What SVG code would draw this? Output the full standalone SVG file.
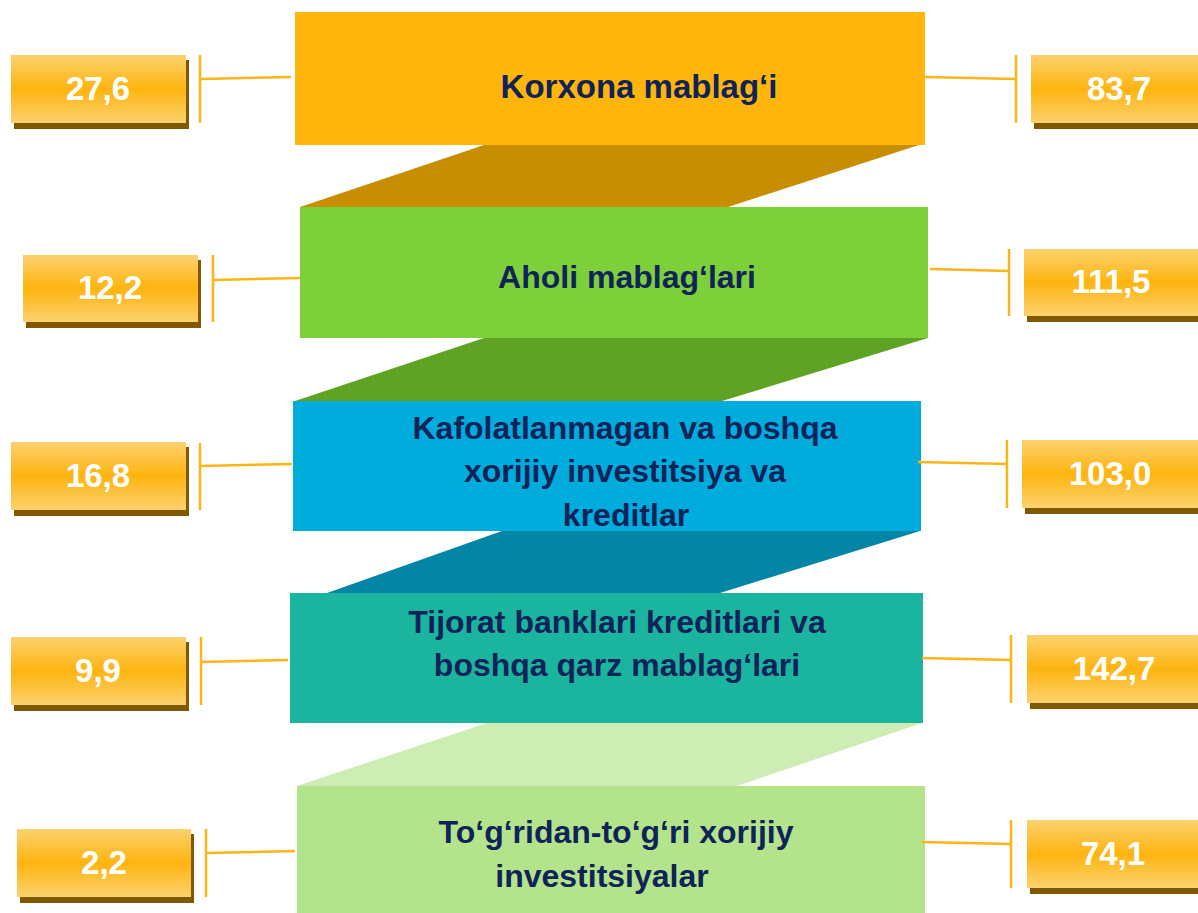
<svg xmlns="http://www.w3.org/2000/svg" width="1198" height="913" viewBox="0 0 1198 913">
<defs>
<linearGradient id="gold" x1="0" y1="0" x2="0" y2="1">
<stop offset="0" stop-color="#FCD26F"/>
<stop offset="0.5" stop-color="#FDB40F"/>
<stop offset="1" stop-color="#FCD26F"/>
</linearGradient>
<style>
.t{font-family:"Liberation Sans",Arial,sans-serif;font-weight:bold;font-size:32px;fill:#0F2359;text-anchor:middle}
.n{font-family:"Liberation Sans",Arial,sans-serif;font-weight:bold;font-size:33px;fill:#FFFFFF;text-anchor:middle}
.sh{fill:#7F5800}
.bx{fill:url(#gold)}
.ln{stroke:#FDB515;stroke-width:2.5;fill:none}
</style>
</defs>
<rect width="1198" height="913" fill="#FFFFFF"/>
<g id="bands">
<polygon points="490,143 925,143 728,207 300,207" fill="#C68E00"/>
<polygon points="484,338 928,338 722,401 295,401" fill="#5FA324"/>
<polygon points="502,531 920,531 720,593 327,593" fill="#0385A6"/>
<polygon points="487,723 922,723 737,786 297,786" fill="#CDEDB4"/>
</g>
<g id="n1"><rect x="295" y="12" width="630" height="133" fill="#FFB50C"/><text class="t" x="639" y="98" style="font-size:33px">Korxona mablag‘i</text></g>
<g id="n2"><rect x="300" y="207" width="628" height="131" fill="#7ED03A"/><text class="t" x="627" y="288">Aholi mablag‘lari</text></g>
<g id="n3"><rect x="293" y="401" width="628" height="130" fill="#00ACDC"/><text class="t" x="625" y="439">Kafolatlanmagan va boshqa</text><text class="t" x="625" y="482">xorijiy investitsiya va</text><text class="t" x="626" y="526">kreditlar</text></g>
<g id="n4"><rect x="290" y="593" width="633" height="130" fill="#1BB49F"/><text class="t" x="617" y="633">Tijorat banklari kreditlari va</text><text class="t" x="617" y="676">boshqa qarz mablag‘lari</text></g>
<g id="n5"><rect x="297" y="786" width="628" height="127" fill="#B3E38A"/><text class="t" x="616" y="843">To‘g‘ridan-to‘g‘ri xorijiy</text><text class="t" x="602" y="887">investitsiyalar</text></g>
<g id="connectors">
<path class="ln" d="M200,55 V123 M200,79 L291,77"/>
<path class="ln" d="M213,255 V322 M213,280 L300,278"/>
<path class="ln" d="M200,443 V510 M200,466 L292,464"/>
<path class="ln" d="M201,637 V705 M201,662 L288,660"/>
<path class="ln" d="M206,829 V897 M206,853 L295,851"/>
<path class="ln" d="M1016,55 V123 M925,77 L1016,79"/>
<path class="ln" d="M1009,249 V316 M930,269 L1009,271"/>
<path class="ln" d="M1007,440 V508 M918,462 L1007,464"/>
<path class="ln" d="M1011,635 V703 M922,658 L1011,660"/>
<path class="ln" d="M1011,820 V888 M922,842 L1011,844"/>
</g>
<g id="v1"><rect class="sh" x="14" y="60" width="175" height="69"/><rect class="bx" x="11" y="55" width="175" height="68"/><text class="n" x="98" y="100">27,6</text></g>
<g id="v2"><rect class="sh" x="26" y="260" width="175" height="68"/><rect class="bx" x="23" y="255" width="175" height="67"/><text class="n" x="110" y="299">12,2</text></g>
<g id="v3"><rect class="sh" x="14" y="447" width="175" height="69"/><rect class="bx" x="11" y="442" width="175" height="68"/><text class="n" x="98" y="487">16,8</text></g>
<g id="v4"><rect class="sh" x="14" y="642" width="175" height="69"/><rect class="bx" x="11" y="637" width="175" height="68"/><text class="n" x="98" y="682">9,9</text></g>
<g id="v5"><rect class="sh" x="20" y="834" width="174" height="69"/><rect class="bx" x="17" y="829" width="174" height="68"/><text class="n" x="104" y="874">2,2</text></g>
<g id="v6"><rect class="sh" x="1034" y="60" width="164" height="69"/><rect class="bx" x="1031" y="55" width="167" height="68"/><text class="n" x="1119" y="100">83,7</text></g>
<g id="v7"><rect class="sh" x="1027" y="254" width="171" height="68"/><rect class="bx" x="1024" y="249" width="174" height="67"/><text class="n" x="1111" y="293">111,5</text></g>
<g id="v8"><rect class="sh" x="1025" y="445" width="173" height="69"/><rect class="bx" x="1022" y="440" width="176" height="68"/><text class="n" x="1110" y="485">103,0</text></g>
<g id="v9"><rect class="sh" x="1030" y="640" width="168" height="69"/><rect class="bx" x="1027" y="635" width="171" height="68"/><text class="n" x="1114" y="680">142,7</text></g>
<g id="v10"><rect class="sh" x="1030" y="825" width="168" height="69"/><rect class="bx" x="1027" y="820" width="171" height="68"/><text class="n" x="1113" y="865">74,1</text></g>
</svg>
